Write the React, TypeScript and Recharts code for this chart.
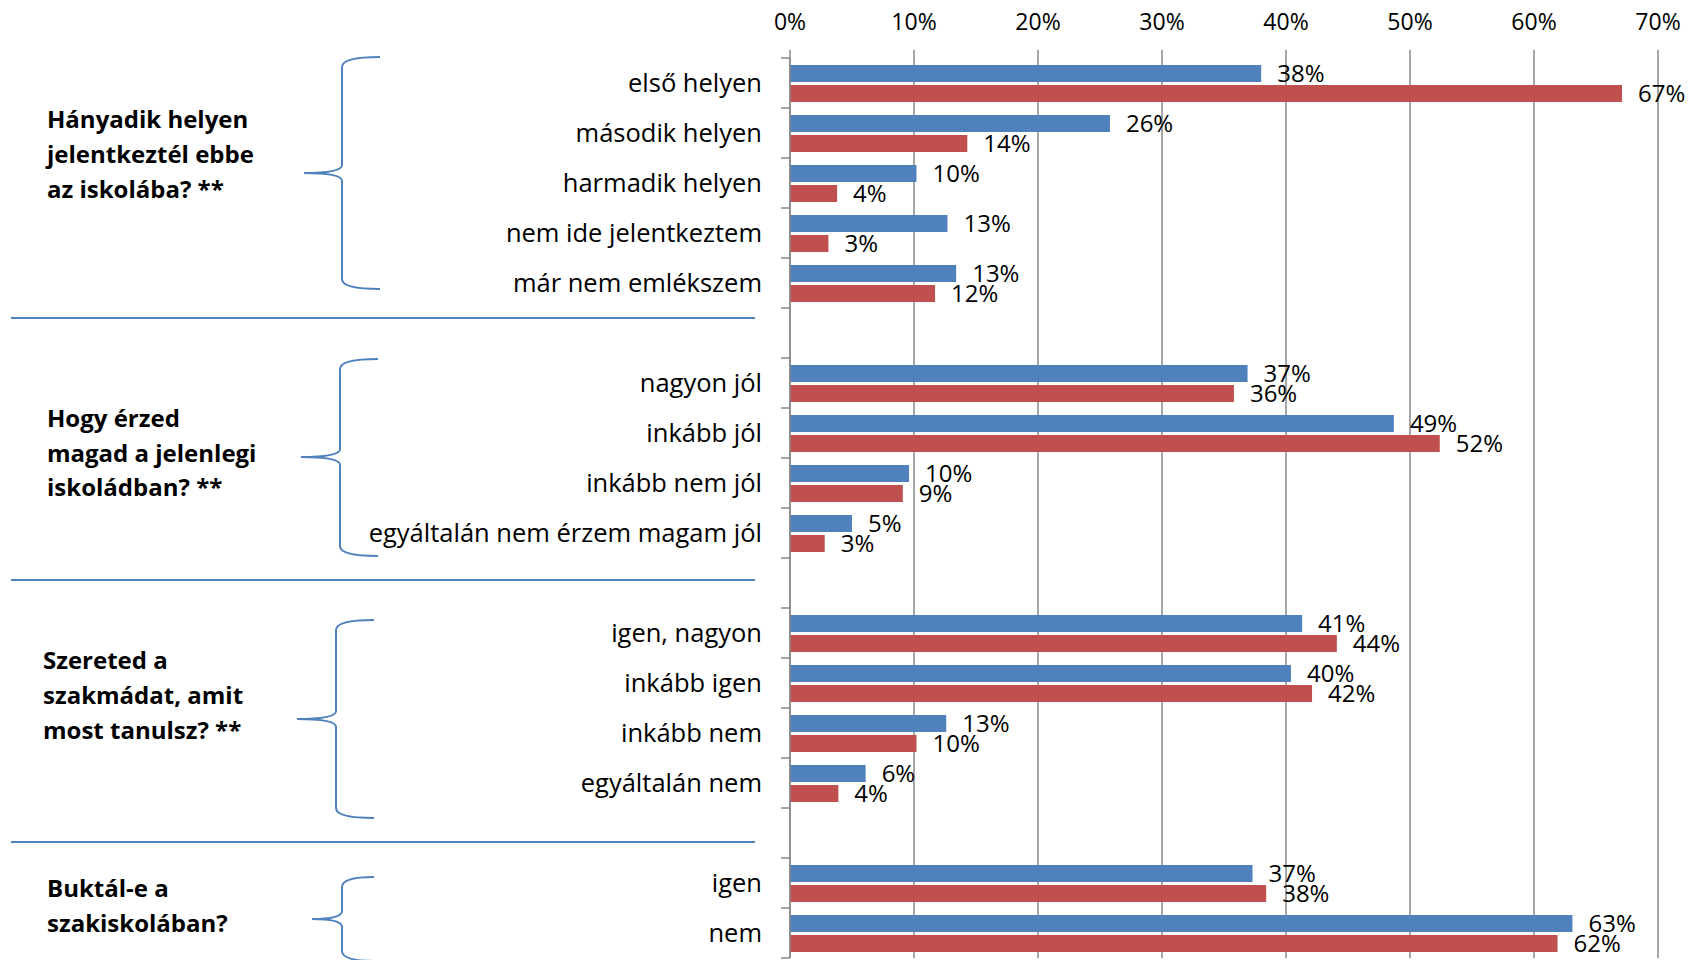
// grouped horizontal bar chart with brace-labelled question groups

import { BarChart, Bar, XAxis, YAxis, CartesianGrid, LabelList } from "recharts";

const categories = [
  "első helyen",
  "második helyen",
  "harmadik helyen",
  "nem ide jelentkeztem",
  "már nem emlékszem",
  "",
  "nagyon jól",
  "inkább jól",
  "inkább nem jól",
  "egyáltalán nem érzem magam jól",
  "",
  "igen, nagyon",
  "inkább igen",
  "inkább nem",
  "egyáltalán nem",
  "",
  "igen",
  "nem",
];

// blue series (top bar of each pair), percent
const blueValues = [38.0, 25.8, 10.2, 12.7, 13.4, null, 36.9, 48.7, 9.6, 5.0, null, 41.3, 40.4, 12.6, 6.1, null, 37.3, 63.1];
// red series (bottom bar of each pair), percent
const redValues = [67.1, 14.3, 3.8, 3.1, 11.7, null, 35.8, 52.4, 9.1, 2.8, null, 44.1, 42.1, 10.2, 3.9, null, 38.4, 61.9];

const xTicks = [0, 10, 20, 30, 40, 50, 60, 70];

const groupTitles = [
  ["Hányadik helyen", "jelentkeztél ebbe", "az iskolába? **"],
  ["Hogy érzed", "magad a jelenlegi", "iskoládban? **"],
  ["Szereted a", "szakmádat, amit", "most tanulsz? **"],
  ["Buktál-e a", "szakiskolában?"],
];

const rows = categories.map((name, i) => ({ id: i, name, blue: blueValues[i], red: redValues[i] }));

const FONT = "'Open Sans', sans-serif";
const GRID = "#898989";
const ACCENT = "#4F81BD";
const AXIS_X = 790;
const TICK_SIZE = 9;
const TICK_MARGIN = 19;

// layout of the left-hand annotations (not data)
const titleLayout = [
  { x: 47, y: [128, 163, 198] },
  { x: 47, y: [427, 462, 496] },
  { x: 43, y: [669, 704, 739] },
  { x: 47, y: [897, 932] },
];
const braces = [
  { top: 57, mid: 173, bottom: 289, tipX: 380, lineX: 342, midX: 304 },
  { top: 359, mid: 457, bottom: 556, tipX: 378, lineX: 340, midX: 301 },
  { top: 620, mid: 719, bottom: 818, tipX: 374, lineX: 336, midX: 297 },
  { top: 877, mid: 919, bottom: 961, tipX: 374, lineX: 342, midX: 312 },
];
const separators = [318, 580, 842];

function bracePath(b: { top: number; mid: number; bottom: number; tipX: number; lineX: number; midX: number }) {
  const r = 10;
  const m = 8;
  return `M${b.tipX},${b.top} Q${b.lineX},${b.top} ${b.lineX},${b.top + r} L${b.lineX},${b.mid - m} Q${b.lineX},${b.mid} ${b.midX},${b.mid} Q${b.lineX},${b.mid} ${b.lineX},${b.mid + m} L${b.lineX},${b.bottom - r} Q${b.lineX},${b.bottom} ${b.tipX},${b.bottom}`;
}

function CategoryTick(props: any) {
  const { x, y, payload } = props;
  const i = Number(payload.value);
  const half = payload.offset ?? 25;
  const x0 = x + TICK_MARGIN;
  const x1 = x0 + TICK_SIZE;
  return (
    <g>
      <line x1={x0} x2={x1} y1={y - half} y2={y - half} stroke={GRID} strokeWidth={1.5} />
      {i === categories.length - 1 && (
        <line x1={x0} x2={x1} y1={y + half} y2={y + half} stroke={GRID} strokeWidth={1.5} />
      )}
      <text x={x} y={y} dy="0.355em" textAnchor="end" fontSize={25.5} fontFamily={FONT} fill="#000">
        {categories[i]}
      </text>
    </g>
  );
}

const fmt = (v: any) => (v == null ? "" : `${Math.round(Number(v))}%`);

export default function App() {
  return (
    <div style={{ position: "absolute", left: 0, top: 0, width: 1689, height: 960, overflow: "hidden", background: "#fff" }}>
      <BarChart
        width={1689}
        height={960}
        data={rows}
        layout="vertical"
        margin={{ top: 8, right: 31, bottom: 2, left: 0 }}
        barGap={3}
      >
        <CartesianGrid horizontal={false} stroke={GRID} strokeWidth={1.5} />
        <XAxis
          type="number"
          orientation="top"
          domain={[0, 70]}
          ticks={xTicks}
          interval={0}
          tickFormatter={(v) => `${v}%`}
          axisLine={false}
          tickLine={{ stroke: GRID, strokeWidth: 1.5 }}
          tickSize={8}
          tickMargin={20}
          height={50}
          tick={{ fill: "#000", fontSize: 23, fontFamily: FONT }}
        />
        <YAxis
          type="category"
          dataKey="id"
          width={AXIS_X}
          interval={0}
          axisLine={{ stroke: GRID, strokeWidth: 1.5 }}
          tickLine={{ stroke: "none" }}
          tickSize={TICK_SIZE}
          tickMargin={TICK_MARGIN}
          tick={<CategoryTick />}
        />
        <Bar dataKey="blue" fill="#4F81BD" barSize={17} isAnimationActive={false}>
          <LabelList dataKey="blue" position="right" offset={16} formatter={fmt} fill="#000" fontSize={24} fontFamily={FONT} />
        </Bar>
        <Bar dataKey="red" fill="#C0504D" barSize={17} isAnimationActive={false}>
          <LabelList dataKey="red" position="right" offset={16} formatter={fmt} fill="#000" fontSize={24} fontFamily={FONT} />
        </Bar>
      </BarChart>

      <svg width={1689} height={960} style={{ position: "absolute", left: 0, top: 0, pointerEvents: "none" }}>
        {separators.map((y) => (
          <line key={y} x1={11} x2={755} y1={y} y2={y} stroke={ACCENT} strokeWidth={2} />
        ))}
        {braces.map((b, i) => (
          <path key={i} d={bracePath(b)} fill="none" stroke={ACCENT} strokeWidth={2} />
        ))}
        {groupTitles.map((lines, g) =>
          lines.map((t, k) => (
            <text key={`${g}-${k}`} x={titleLayout[g].x} y={titleLayout[g].y[k]} fontSize={24} fontWeight="bold" fontFamily={FONT} fill="#000">
              {t}
            </text>
          ))
        )}
      </svg>
    </div>
  );
}
